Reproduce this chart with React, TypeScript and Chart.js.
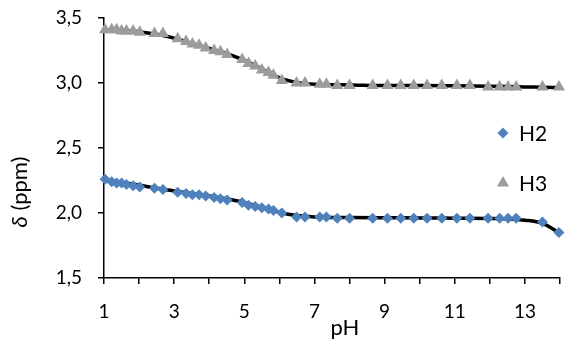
import React, { useEffect, useRef } from 'react';
import { Chart, registerables } from 'chart.js';

Chart.register(...registerables);

// Measured samples (pH) shared by both protons
const pHValues = [
  1.03, 1.22, 1.36, 1.5, 1.64, 1.83, 2.02, 2.44, 2.68, 3.1, 3.34, 3.52, 3.71, 3.9, 4.14, 4.32, 4.51,
  4.94, 5.12, 5.31, 5.5, 5.69, 5.83, 6.07, 6.49, 6.73, 7.15, 7.34, 7.65, 8.0, 8.66, 9.08, 9.46, 9.83,
  10.21, 10.63, 11.06, 11.43, 11.95, 12.28, 12.52, 12.75, 13.5, 13.97,
];

const h2Values = [
  2.26, 2.24, 2.23, 2.23, 2.22, 2.21, 2.2, 2.19, 2.18, 2.16, 2.15, 2.14, 2.14, 2.13, 2.12, 2.11, 2.1,
  2.08, 2.06, 2.05, 2.04, 2.03, 2.02, 2.0, 1.97, 1.97, 1.97, 1.97, 1.96, 1.96, 1.96, 1.96, 1.96, 1.96,
  1.96, 1.96, 1.96, 1.96, 1.96, 1.96, 1.96, 1.96, 1.93, 1.85,
];

const h3Values = [
  3.41, 3.41, 3.41, 3.4, 3.4, 3.4, 3.39, 3.38, 3.38, 3.34, 3.32, 3.3, 3.29, 3.27, 3.25, 3.24, 3.22,
  3.18, 3.15, 3.13, 3.1, 3.08, 3.06, 3.02, 3.0, 3.0, 2.99, 2.99, 2.98, 2.98, 2.98, 2.98, 2.98, 2.98,
  2.98, 2.98, 2.98, 2.98, 2.97, 2.97, 2.97, 2.97, 2.97, 2.97,
];

// Fitted curves
const fitPH = [1, 1.5, 2, 2.5, 3, 3.5, 4, 4.5, 5, 5.5, 6, 6.5, 7, 8, 9, 10, 11, 12, 12.5, 13, 13.5, 14];
const fitH2 = [
  2.255, 2.235, 2.215, 2.19, 2.17, 2.15, 2.13, 2.11, 2.08, 2.045, 2.005, 1.98, 1.97, 1.965, 1.963,
  1.962, 1.96, 1.958, 1.955, 1.945, 1.92, 1.845,
];
const fitH3 = [
  3.41, 3.405, 3.395, 3.375, 3.345, 3.305, 3.265, 3.225, 3.175, 3.11, 3.04, 3.005, 2.99, 2.985, 2.98,
  2.98, 2.978, 2.975, 2.973, 2.97, 2.968, 2.965,
];

const xLabeled = [1, 3, 5, 7, 9, 11, 13];
const seriesNames = ['H2', 'H3'];
const xTitle = 'pH';
const yTitleSymbol = 'δ';
const yTitleRest = ' (ppm)';

const FONT = 'Lato, "Open Sans", sans-serif';
const BLUE = '#4F81BD';
const GRAY = '#9C9C9C';

const toXY = (xs: number[], ys: number[]) => xs.map((x, i) => ({ x, y: ys[i] }));

const overlayPlugin = {
  id: 'overlay',
  afterDraw(chart: any) {
    const ctx: CanvasRenderingContext2D = chart.ctx;
    const area = chart.chartArea;
    ctx.save();
    ctx.fillStyle = '#000';
    ctx.textBaseline = 'middle';

    // x title
    ctx.font = `22px ${FONT}`;
    ctx.textAlign = 'center';
    ctx.fillText(xTitle, (area.left + area.right) / 2 + 13, 328);

    // y title (rotated)
    ctx.save();
    ctx.translate(20, 192);
    ctx.rotate(-Math.PI / 2);
    ctx.font = `italic 22px ${FONT}`;
    const w1 = ctx.measureText(yTitleSymbol).width;
    ctx.font = `22px ${FONT}`;
    const w2 = ctx.measureText(yTitleRest).width;
    const start = -(w1 + w2) / 2;
    ctx.textAlign = 'left';
    ctx.font = `italic 22px ${FONT}`;
    ctx.fillText(yTitleSymbol, start, 0);
    ctx.font = `22px ${FONT}`;
    ctx.fillText(yTitleRest, start + w1, 0);
    ctx.restore();

    // legend inside plot area
    const lx = area.right - 57;
    const ly = [133, 183];
    ctx.fillStyle = BLUE;
    ctx.beginPath();
    const r = 5.5;
    ctx.moveTo(lx, ly[0] - r);
    ctx.lineTo(lx + r, ly[0]);
    ctx.lineTo(lx, ly[0] + r);
    ctx.lineTo(lx - r, ly[0]);
    ctx.closePath();
    ctx.fill();
    ctx.fillStyle = GRAY;
    const t = 7;
    ctx.beginPath();
    ctx.moveTo(lx, ly[1] - t);
    ctx.lineTo(lx + t * 0.866, ly[1] + t / 2);
    ctx.lineTo(lx - t * 0.866, ly[1] + t / 2);
    ctx.closePath();
    ctx.fill();

    ctx.fillStyle = '#000';
    ctx.font = `21px ${FONT}`;
    ctx.textAlign = 'left';
    ctx.fillText(seriesNames[0], lx + 16, ly[0] + 1);
    ctx.fillText(seriesNames[1], lx + 16, ly[1] + 1);
    ctx.restore();
  },
};

export default function App() {
  const canvasRef = useRef<HTMLCanvasElement | null>(null);

  useEffect(() => {
    document.body.style.margin = '0';
    const canvas = canvasRef.current;
    if (!canvas) return;
    const chart = new Chart(canvas, {
      type: 'scatter',
      data: {
        datasets: [
          {
            label: seriesNames[0],
            data: toXY(pHValues, h2Values),
            pointStyle: 'rectRot',
            pointRadius: 5.5,
            pointBackgroundColor: BLUE,
            pointBorderWidth: 0,
            borderWidth: 0,
            showLine: false,
            clip: false,
          },
          {
            label: seriesNames[1],
            data: toXY(pHValues, h3Values),
            pointStyle: 'triangle',
            pointRadius: 7,
            pointBackgroundColor: GRAY,
            pointBorderWidth: 0,
            borderWidth: 0,
            showLine: false,
            clip: false,
          },
          {
            label: 'fitH2',
            data: toXY(fitPH, fitH2),
            showLine: true,
            borderColor: '#000',
            borderWidth: 3.5,
            pointRadius: 0,
            cubicInterpolationMode: 'monotone',
            clip: false,
          },
          {
            label: 'fitH3',
            data: toXY(fitPH, fitH3),
            showLine: true,
            borderColor: '#000',
            borderWidth: 3.5,
            pointRadius: 0,
            cubicInterpolationMode: 'monotone',
            clip: false,
          },
        ],
      },
      options: {
        animation: false,
        responsive: false,
        events: [],
        layout: { padding: { top: 18, right: 2, left: 0, bottom: 0 } },
        plugins: { legend: { display: false }, tooltip: { enabled: false } },
        scales: {
          x: {
            type: 'linear',
            min: 1,
            max: 14,
            afterFit: (s: any) => {
              s.height = 65;
              s.paddingLeft = 0;
              s.paddingRight = 0;
            },
            afterBuildTicks: (s: any) => {
              const arr = [];
              for (let v = 1; v <= 14; v++) arr.push({ value: v });
              s.ticks = arr;
            },
            border: { color: '#000', width: 1.5 },
            grid: { drawOnChartArea: false, color: '#000', tickLength: 6, lineWidth: 1.5 },
            ticks: {
              autoSkip: false,
              maxRotation: 0,
              padding: 16,
              color: '#000',
              font: { family: FONT, size: 19 },
              callback: (v: any) => (xLabeled.includes(Number(v)) ? String(v) : ''),
            },
          },
          y: {
            min: 1.5,
            max: 3.5,
            afterFit: (s: any) => {
              s.width = 104;
              s.paddingTop = 0;
              s.paddingBottom = 0;
            },
            border: { color: '#000', width: 1.5 },
            grid: { drawOnChartArea: false, color: '#000', tickLength: 6, lineWidth: 1.5 },
            ticks: {
              stepSize: 0.5,
              padding: 16,
              color: '#000',
              font: { family: FONT, size: 19 },
              callback: (v: any) => Number(v).toFixed(1).replace('.', ','),
            },
          },
        },
      },
      plugins: [overlayPlugin],
    });
    return () => chart.destroy();
  }, []);

  return (
    <div style={{ position: 'absolute', left: 0, top: 0, width: 567, height: 343 }}>
      <canvas ref={canvasRef} width={567} height={343} style={{ display: 'block' }} />
    </div>
  );
}
